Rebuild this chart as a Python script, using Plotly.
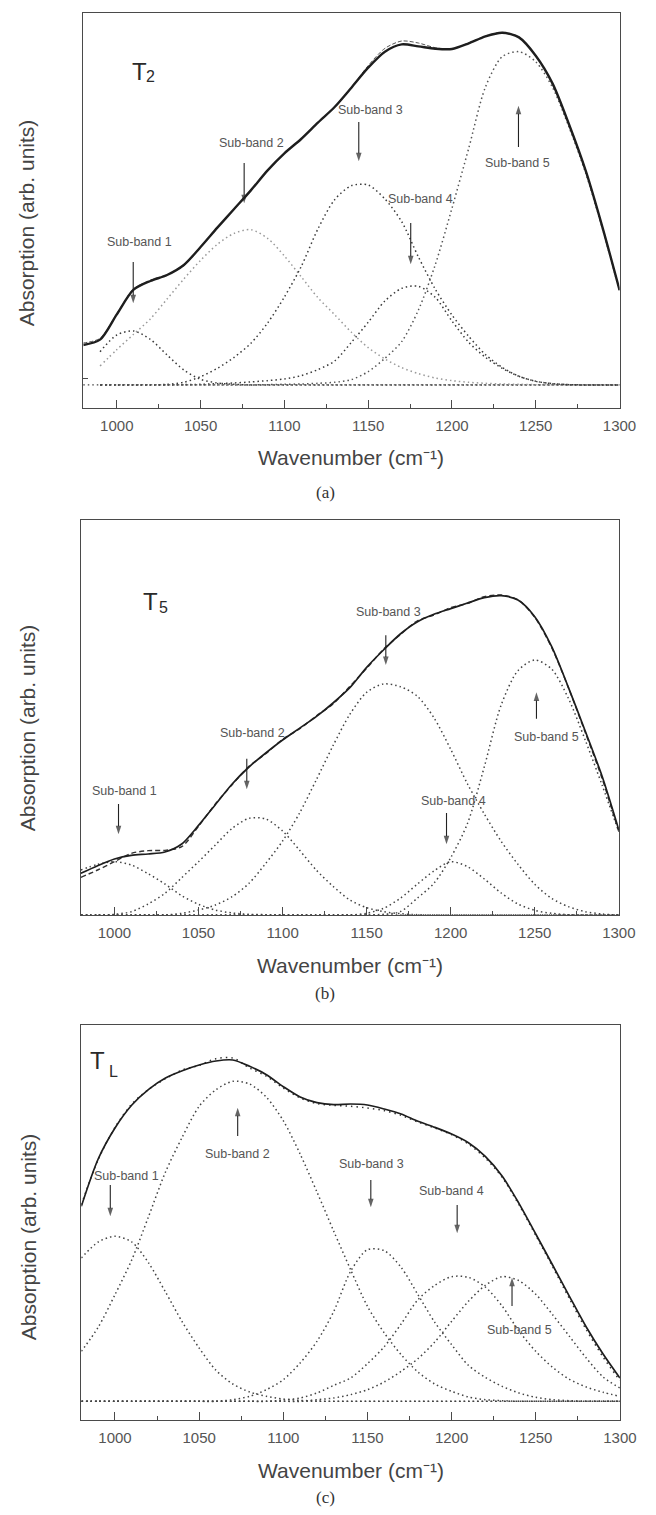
import plotly.graph_objects as go

W, H = 656, 1515

# ---------------- data ----------------
WAVENUMBER = [980, 990, 1000, 1010, 1020, 1030, 1040, 1050, 1060, 1070, 1080,
              1090, 1100, 1110, 1120, 1130, 1140, 1150, 1160, 1170, 1180, 1190,
              1200, 1210, 1220, 1230, 1240, 1250, 1260, 1270, 1280, 1290, 1300]

# panel (a) : T2
A_MEAS = [0.120, 0.136, 0.212, 0.286, 0.312, 0.330, 0.360, 0.414, 0.472, 0.528, 0.584,
          0.644, 0.695, 0.738, 0.787, 0.834, 0.892, 0.952, 1.000, 1.022, 1.016, 1.009,
          1.008, 1.025, 1.046, 1.057, 1.043, 0.988, 0.905, 0.780, 0.640, 0.470, 0.285]
A_FIT = [0.126, 0.140, 0.214, 0.288, 0.314, 0.331, 0.358, 0.413, 0.473, 0.527, 0.585,
         0.645, 0.694, 0.739, 0.786, 0.835, 0.893, 0.958, 1.010, 1.032, 1.026, 1.012,
         1.008, 1.026, 1.047, 1.058, 1.044, 0.989, 0.904, 0.781, 0.641, 0.471, 0.286]
A_SB1 = [None, 0.100, 0.150, 0.162, 0.137, 0.090, 0.045, 0.017, 0.006, 0.002, 0.000,
         0.000, 0.000, 0.000, 0.000, 0.000, 0.000, 0.000, 0.000, 0.000, 0.000, 0.000,
         0.000, 0.000, 0.000, 0.000, 0.000, 0.000, 0.000, 0.000, 0.000, 0.000, 0.000]
A_SB2 = [None, 0.057, 0.106, 0.152, 0.198, 0.258, 0.318, 0.374, 0.422, 0.455, 0.466,
         0.440, 0.387, 0.325, 0.262, 0.211, 0.158, 0.112, 0.078, 0.052, 0.034, 0.021,
         0.013, 0.008, 0.005, 0.003, 0.002, 0.001, 0.000, 0.000, 0.000, 0.000, 0.000]
A_SB3 = [None, 0.000, 0.000, 0.000, 0.000, 0.002, 0.008, 0.025, 0.050, 0.083, 0.125,
         0.186, 0.264, 0.355, 0.468, 0.556, 0.598, 0.600, 0.558, 0.490, 0.384, 0.288,
         0.210, 0.146, 0.091, 0.053, 0.026, 0.011, 0.004, 0.001, 0.000, 0.000, 0.000]
A_SB4 = [None, 0.000, 0.000, 0.000, 0.000, 0.000, 0.001, 0.002, 0.004, 0.006, 0.009,
         0.013, 0.018, 0.028, 0.046, 0.072, 0.128, 0.188, 0.252, 0.290, 0.296, 0.263,
         0.192, 0.128, 0.083, 0.050, 0.026, 0.011, 0.004, 0.001, 0.000, 0.000, 0.000]
A_SB5 = [None, 0.000, 0.000, 0.000, 0.000, 0.000, 0.000, 0.000, 0.000, 0.000, 0.000,
         0.001, 0.002, 0.003, 0.005, 0.008, 0.016, 0.040, 0.080, 0.130, 0.225, 0.360,
         0.530, 0.710, 0.894, 0.985, 1.000, 0.970, 0.893, 0.772, 0.633, 0.466, 0.283]
A_BASELINE = 0.0
# arrows: wavenumber, tail level, head level
A_ARROW_WN = [1009.8, 1076.0, 1144.4, 1175.4, 1239.7]
A_ARROW_TAIL = [0.369, 0.666, 0.789, 0.486, 0.714]
A_ARROW_HEAD = [0.245, 0.545, 0.671, 0.362, 0.838]

# panel (b) : T5
B_MEAS = [0.125, 0.148, 0.168, 0.179, 0.183, 0.189, 0.213, 0.269, 0.331, 0.393, 0.444,
          0.486, 0.525, 0.560, 0.595, 0.636, 0.682, 0.743, 0.795, 0.843, 0.879, 0.902,
          0.919, 0.936, 0.952, 0.958, 0.945, 0.895, 0.806, 0.683, 0.552, 0.417, 0.255]
B_FIT = [0.113, 0.135, 0.160, 0.185, 0.193, 0.194, 0.205, 0.266, 0.333, 0.391, 0.446,
         0.484, 0.527, 0.558, 0.597, 0.633, 0.686, 0.740, 0.797, 0.841, 0.882, 0.900,
         0.922, 0.935, 0.955, 0.960, 0.946, 0.893, 0.803, 0.682, 0.548, 0.410, 0.250]
B_SB1 = [0.135, 0.152, 0.160, 0.150, 0.124, 0.093, 0.058, 0.032, 0.015, 0.006, 0.002,
         0.001, 0.000, 0.000, 0.000, 0.000, 0.000, 0.000, 0.000, 0.000, 0.000, 0.000,
         0.000, 0.000, 0.000, 0.000, 0.000, 0.000, 0.000, 0.000, 0.000, 0.000, 0.000]
B_SB2 = [0.000, 0.000, 0.002, 0.010, 0.033, 0.065, 0.112, 0.160, 0.210, 0.260, 0.290,
         0.288, 0.252, 0.195, 0.135, 0.086, 0.045, 0.022, 0.010, 0.004, 0.001, 0.000,
         0.000, 0.000, 0.000, 0.000, 0.000, 0.000, 0.000, 0.000, 0.000, 0.000, 0.000]
B_SB3 = [0.000, 0.000, 0.000, 0.000, 0.000, 0.000, 0.005, 0.015, 0.030, 0.055, 0.095,
         0.155, 0.222, 0.305, 0.405, 0.508, 0.602, 0.668, 0.693, 0.685, 0.657, 0.592,
         0.497, 0.393, 0.303, 0.221, 0.152, 0.092, 0.050, 0.025, 0.010, 0.003, 0.000]
B_SB4 = [0.000, 0.000, 0.000, 0.000, 0.000, 0.000, 0.000, 0.000, 0.000, 0.000, 0.000,
         0.000, 0.000, 0.000, 0.000, 0.000, 0.000, 0.005, 0.020, 0.050, 0.092, 0.132,
         0.160, 0.145, 0.108, 0.066, 0.033, 0.014, 0.005, 0.001, 0.000, 0.000, 0.000]
B_SB5 = [0.000, 0.000, 0.000, 0.000, 0.000, 0.000, 0.000, 0.000, 0.000, 0.000, 0.000,
         0.000, 0.000, 0.000, 0.000, 0.000, 0.000, 0.000, 0.002, 0.010, 0.050, 0.095,
         0.172, 0.275, 0.445, 0.630, 0.733, 0.765, 0.738, 0.650, 0.525, 0.390, 0.250]
B_ARROW_WN = [1002.4, 1078.7, 1161.4, 1197.5, 1251.0]
B_ARROW_TAIL = [0.333, 0.469, 0.839, 0.306, 0.589]
B_ARROW_HEAD = [0.242, 0.377, 0.750, 0.212, 0.668]

# panel (c) : TL
C_MEAS = [0.585, 0.727, 0.820, 0.889, 0.936, 0.970, 0.992, 1.009, 1.021, 1.024, 1.005,
          0.980, 0.944, 0.913, 0.896, 0.890, 0.892, 0.889, 0.877, 0.862, 0.840, 0.822,
          0.802, 0.776, 0.735, 0.676, 0.594, 0.502, 0.409, 0.315, 0.223, 0.142, 0.070]
C_FIT = [0.590, 0.725, 0.822, 0.892, 0.936, 0.968, 0.994, 1.008, 1.028, 1.030, 1.000,
         0.975, 0.940, 0.910, 0.893, 0.888, 0.885, 0.880, 0.872, 0.858, 0.838, 0.820,
         0.800, 0.772, 0.730, 0.672, 0.590, 0.498, 0.404, 0.308, 0.215, 0.133, 0.062]
C_SB1 = [0.430, 0.478, 0.495, 0.478, 0.415, 0.328, 0.238, 0.160, 0.093, 0.052, 0.028,
         0.015, 0.007, 0.003, 0.001, 0.000, 0.000, 0.000, 0.000, 0.000, 0.000, 0.000,
         0.000, 0.000, 0.000, 0.000, 0.000, 0.000, 0.000, 0.000, 0.000, 0.000, 0.000]
C_SB2 = [0.150, 0.222, 0.320, 0.425, 0.555, 0.688, 0.793, 0.885, 0.935, 0.960, 0.952,
         0.912, 0.842, 0.742, 0.628, 0.510, 0.395, 0.285, 0.205, 0.140, 0.088, 0.052,
         0.030, 0.013, 0.005, 0.002, 0.000, 0.000, 0.000, 0.000, 0.000, 0.000, 0.000]
C_SB3 = [0.000, 0.000, 0.000, 0.000, 0.000, 0.000, 0.000, 0.000, 0.000, 0.005, 0.015,
         0.035, 0.065, 0.115, 0.180, 0.270, 0.390, 0.455, 0.452, 0.402, 0.320, 0.237,
         0.170, 0.108, 0.072, 0.045, 0.025, 0.012, 0.005, 0.002, 0.000, 0.000, 0.000]
C_SB4 = [0.000, 0.000, 0.000, 0.000, 0.000, 0.000, 0.000, 0.000, 0.000, 0.000, 0.000,
         0.000, 0.004, 0.010, 0.025, 0.048, 0.070, 0.113, 0.164, 0.232, 0.305, 0.348,
         0.374, 0.372, 0.343, 0.286, 0.211, 0.150, 0.102, 0.066, 0.043, 0.027, 0.015]
C_SB5 = [0.000, 0.000, 0.000, 0.000, 0.000, 0.000, 0.000, 0.000, 0.000, 0.000, 0.000,
         0.000, 0.000, 0.000, 0.005, 0.010, 0.020, 0.035, 0.058, 0.090, 0.128, 0.178,
         0.240, 0.300, 0.348, 0.374, 0.362, 0.321, 0.260, 0.195, 0.130, 0.073, 0.040]
C_BASELINE = 0.0
C_ARROW_WN = [997.2, 1072.9, 1152.0, 1203.3, 1235.9]
C_ARROW_TAIL = [0.649, 0.796, 0.664, 0.589, 0.286]
C_ARROW_HEAD = [0.555, 0.881, 0.582, 0.504, 0.371]

TICK_VALS = [1000, 1050, 1100, 1150, 1200, 1250, 1300]
MINOR_TICK_VALS = [1025, 1075, 1125, 1175, 1225, 1275]
SUBBAND_LABELS = ["Sub-band 1", "Sub-band 2", "Sub-band 3", "Sub-band 4", "Sub-band 5"]
PANEL_LETTER = "T"
PANEL_SUBSCRIPTS = ["2", "5", "L"]
CAPTIONS = ["(a)", "(b)", "(c)"]
X_TITLE = "Wavenumber (cm\u207b\u00b9)"
Y_TITLE = "Absorption (arb. units)"

# ---------------- layout geometry (pixels) ----------------
SANS = "Liberation Sans, Arial, sans-serif"
SERIF = "Liberation Serif, Times New Roman, serif"


def px(x):
    return x / W


def py(y):
    return 1 - y / H


panels = [
    dict(frame=(85.5, 636.0, 12.7, 408.3), yrange=(-0.070, 1.117),
         meas=A_MEAS, fit=A_FIT, subs=[A_SB1, A_SB2, A_SB3, A_SB4, A_SB5],
         sub_colors=["#3a3a3a", "#9a9a9a", "#3a3a3a", "#3a3a3a", "#555555"],
         main_w=2.4, fit_style=dict(color="#555", width=1.0, dash="4px,2px"),
         baseline=A_BASELINE, yticks=[0.02],
         arrows=(A_ARROW_WN, A_ARROW_TAIL, A_ARROW_HEAD),
         labels=[(143, 242), (258, 143), (380, 110), (432, 199), (531, 163)],
         name_pos=(133, 71.5), sub_pos=(148, 76.5), xtitle_y=458, ytitle=(28, 223),
         caption=(334, 492)),
    dict(frame=(83.0, 635.3, 520.0, 915.0), yrange=(0.0, 1.185),
         meas=B_MEAS, fit=B_FIT, subs=[B_SB1, B_SB2, B_SB3, B_SB4, B_SB5],
         sub_colors=["#444"] * 5,
         main_w=1.7, fit_style=dict(color="#333", width=1.4, dash="5px,3px"),
         baseline=None, yticks=[],
         arrows=(B_ARROW_WN, B_ARROW_TAIL, B_ARROW_HEAD),
         labels=[(128, 791), (259, 733), (399, 612), (466, 801), (561, 737)],
         name_pos=(145, 601.5), sub_pos=(161, 607), xtitle_y=965, ytitle=(28, 728),
         caption=(334, 993)),
    dict(frame=(83.5, 636.4, 1025.0, 1420.0), yrange=(-0.056, 1.129),
         meas=C_MEAS, fit=C_FIT, subs=[C_SB1, C_SB2, C_SB3, C_SB4, C_SB5],
         sub_colors=["#444"] * 5,
         main_w=1.7, fit_style=dict(color="#333", width=1.5, dash="1.5px,4px"),
         baseline=C_BASELINE, yticks=[],
         arrows=(C_ARROW_WN, C_ARROW_TAIL, C_ARROW_HEAD),
         labels=[(130, 1176), (244, 1154), (381, 1164), (463, 1191), (533, 1330)],
         name_pos=(90, 1060), sub_pos=(109.5, 1071.5), xtitle_y=1470, ytitle=(29, 1237),
         caption=(334, 1497)),
]

fig = go.Figure()
annotations = []
shapes = []
layout_axes = {}

for i, p in enumerate(panels):
    k = "" if i == 0 else str(i + 1)
    xa, ya = "x" + k, "y" + k
    x0, x1, y0, y1 = p["frame"]

    for vals, col in zip(p["subs"], p["sub_colors"]):
        fig.add_trace(go.Scatter(
            x=WAVENUMBER, y=vals, xaxis=xa, yaxis=ya, mode="lines",
            line=dict(color=col, width=1.5, dash="1.5px,3px", shape="spline", smoothing=0.8),
            showlegend=False, hoverinfo="skip"))
    fig.add_trace(go.Scatter(
        x=WAVENUMBER, y=p["fit"], xaxis=xa, yaxis=ya, mode="lines",
        line=dict(shape="spline", smoothing=0.8, **p["fit_style"]),
        showlegend=False, hoverinfo="skip"))
    fig.add_trace(go.Scatter(
        x=WAVENUMBER, y=p["meas"], xaxis=xa, yaxis=ya, mode="lines",
        line=dict(color="#1e1e1e", width=p["main_w"], shape="spline", smoothing=0.8),
        showlegend=False, hoverinfo="skip"))

    # arrows pointing at the sub-bands (line + oriented arrow marker at the head)
    wn, tail, head = p["arrows"]
    for w_, t_, h_ in zip(wn, tail, head):
        fig.add_trace(go.Scatter(
            x=[w_, w_], y=[t_, h_], xaxis=xa, yaxis=ya, mode="lines+markers",
            line=dict(color="#222", width=1.1),
            marker=dict(symbol="arrow", angleref="previous", size=[0, 9],
                        color="#222", line=dict(width=0)),
            showlegend=False, hoverinfo="skip"))

    if p["baseline"] is not None:
        shapes.append(dict(type="line", xref=xa + " domain", yref=ya,
                           x0=0.0, x1=1.0, y0=p["baseline"], y1=p["baseline"],
                           line=dict(color="#444", width=1.3, dash="1.5px,3px")))

    axis_common = dict(showline=True, mirror=True, linecolor="#4a4a4a", linewidth=1.3,
                       showgrid=False, zeroline=False)
    layout_axes["xaxis" + k] = dict(
        axis_common, anchor=ya, domain=[px(x0), px(x1)], range=[980, 1300],
        tickmode="array", tickvals=TICK_VALS, ticks="inside", ticklen=8,
        tickcolor="#4a4a4a", tickwidth=1.2, ticklabelstandoff=4,
        tickfont=dict(family=SANS, size=15, color="#555"),
        minor=dict(tickmode="array", tickvals=MINOR_TICK_VALS, ticks="inside",
                   ticklen=4, tickcolor="#4a4a4a", tickwidth=1.1))
    layout_axes["yaxis" + k] = dict(
        axis_common, anchor=xa, domain=[py(y1), py(y0)], range=list(p["yrange"]),
        tickmode="array", tickvals=p["yticks"], ticks="inside" if p["yticks"] else "",
        ticklen=5, tickcolor="#4a4a4a", showticklabels=False)

    for text, (lx, ly) in zip(SUBBAND_LABELS, p["labels"]):
        annotations.append(dict(text=text, x=px(lx), y=py(ly), xref="paper", yref="paper",
                                showarrow=False, xanchor="center", yanchor="middle",
                                font=dict(family=SANS, size=12.5, color="#555")))
    nx, ny = p["name_pos"]
    annotations.append(dict(text=PANEL_LETTER, x=px(nx), y=py(ny), xref="paper", yref="paper",
                            showarrow=False, xanchor="left", yanchor="middle",
                            font=dict(family=SANS, size=24, color="#2a2a2a")))
    sx, sy = p["sub_pos"]
    annotations.append(dict(text=PANEL_SUBSCRIPTS[i], x=px(sx), y=py(sy), xref="paper",
                            yref="paper", showarrow=False, xanchor="left", yanchor="middle",
                            font=dict(family=SANS, size=16, color="#2a2a2a")))
    annotations.append(dict(text=X_TITLE, x=px((x0 + x1) / 2), y=py(p["xtitle_y"]),
                            xref="paper", yref="paper", showarrow=False,
                            xanchor="center", yanchor="middle",
                            font=dict(family=SANS, size=21, color="#444")))
    tx_, ty_ = p["ytitle"]
    annotations.append(dict(text=Y_TITLE, x=px(tx_), y=py(ty_), xref="paper", yref="paper",
                            showarrow=False, textangle=-90,
                            xanchor="center", yanchor="middle",
                            font=dict(family=SANS, size=21, color="#444")))
    cx, cy = p["caption"]
    annotations.append(dict(text=CAPTIONS[i], x=px(cx), y=py(cy), xref="paper", yref="paper",
                            showarrow=False, xanchor="center", yanchor="middle",
                            font=dict(family=SERIF, size=17, color="#333")))

fig.update_layout(
    width=W, height=H, margin=dict(l=0, r=0, t=0, b=0),
    paper_bgcolor="white", plot_bgcolor="white",
    annotations=annotations, shapes=shapes, showlegend=False,
    **layout_axes)

fig.write_html("out.html", config={"displayModeBar": False},
               post_script="document.body.style.margin='0';")
